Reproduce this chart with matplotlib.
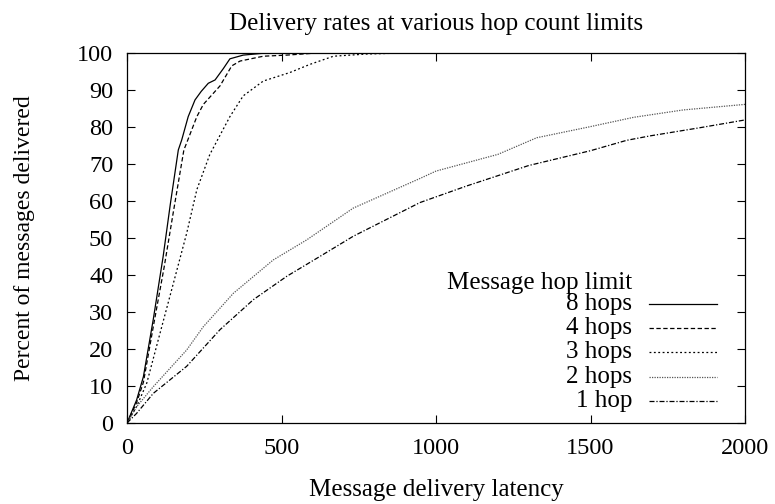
import matplotlib.pyplot as plt
import numpy as np

plt.rcParams['font.family'] = ['Liberation Serif', 'DejaVu Serif']

# latency / percent delivered
x_8 = [0, 15, 31, 53, 85, 117, 140, 166, 177, 198, 220, 240, 263, 285, 312, 333, 376, 440, 520, 600, 1000]
y_8 = [0, 3, 6.2, 12.5, 28, 45, 59, 73.7, 76.4, 82.7, 87.2, 89.5, 91.7, 92.6, 95.7, 98.3, 99.3, 99.8, 99.9, 100, 100]

x_4 = [0, 31, 53, 85, 120, 150, 184, 193, 226, 247, 301, 339, 366, 441, 517, 620, 800, 1000]
y_4 = [0, 5.5, 11, 26, 42, 57, 73.7, 75.6, 82.7, 86, 91, 96.4, 97.7, 99, 99.3, 99.9, 100, 100]

x_3 = [0, 31, 64, 107, 150, 193, 226, 268, 333, 376, 441, 527, 592, 668, 777, 948, 1200]
y_3 = [0, 4.4, 10.8, 24.3, 37.7, 51.2, 63, 72.5, 82.7, 88.3, 92.3, 94.6, 96.8, 99, 99.6, 100, 100]

x_2 = [0, 31, 85, 193, 247, 344, 473, 581, 732, 948, 1000, 1200, 1326, 1500, 1639, 1800, 2000]
y_2 = [0, 4.4, 9.8, 19.7, 26, 35, 44, 49.4, 58, 66, 68, 72.5, 77, 80, 82.5, 84.5, 86]

x_1 = [0, 31, 85, 193, 301, 409, 517, 625, 732, 948, 1100, 1300, 1500, 1617, 1693, 1854, 2000]
y_1 = [0, 2.6, 8, 15.3, 25.2, 33.3, 39.6, 45, 50.4, 59.5, 64, 69.5, 73.5, 76.3, 77.5, 79.7, 81.8]

labels = ['8 hops', '4 hops', '3 hops', '2 hops', '1 hop']

fig = plt.figure(figsize=(7.75, 5.04), dpi=100)
ax = fig.add_axes([0.1639, 0.1607, 0.7974, 0.7351])

styles = [
    dict(color='black', ls='-'),
    dict(color='black', ls=(0, (3.5, 2))),
    dict(color='black', ls=(0, (1.5, 2))),
    dict(color='#555555', ls=(0, (1, 1))),
    dict(color='black', ls=(0, (4, 1.5, 1, 1.5))),
]
series = [(x_8, y_8), (x_4, y_4), (x_3, y_3), (x_2, y_2), (x_1, y_1)]

for (xs, ys), st in zip(series, styles):
    ax.plot(xs, ys, lw=0.9, **st)

ax.set_xlim(0, 2000)
ax.set_ylim(0, 100)
ax.set_xticks([0, 500, 1000, 1500, 2000])
ax.set_yticks(np.arange(0, 101, 10))
ax.tick_params(direction='in', top=True, right=True, length=6, width=0.8, labelsize=17.5)
ax.tick_params(axis='y', pad=10)
ax.tick_params(axis='x', pad=11)
for s in ax.spines.values():
    s.set_linewidth(0.9)

ax.set_title('Delivery rates at various hop count limits', fontsize=18, pad=16)
ax.set_xlabel('Message delivery latency', fontsize=18, labelpad=14)
ax.set_ylabel('Percent of messages delivered', fontsize=17, labelpad=30)

# gnuplot-style key: text right-aligned, sample on the right
key_x = (632 - 127) / 618.0
ax.text(key_x, (423 - 283) / 370.5, 'Message hop limit', transform=ax.transAxes,
        ha='right', va='center', fontsize=18)
for i, (lab, st) in enumerate(zip(labels, styles)):
    yk = (423 - 304 - 24.2 * i) / 370.5
    ax.text(key_x, yk, lab, transform=ax.transAxes, ha='right', va='center', fontsize=18)
    ax.plot([(649 - 127) / 618.0, (717 - 127) / 618.0], [yk, yk], transform=ax.transAxes,
            lw=0.9, **st)

fig.savefig('out.png', dpi=100)
